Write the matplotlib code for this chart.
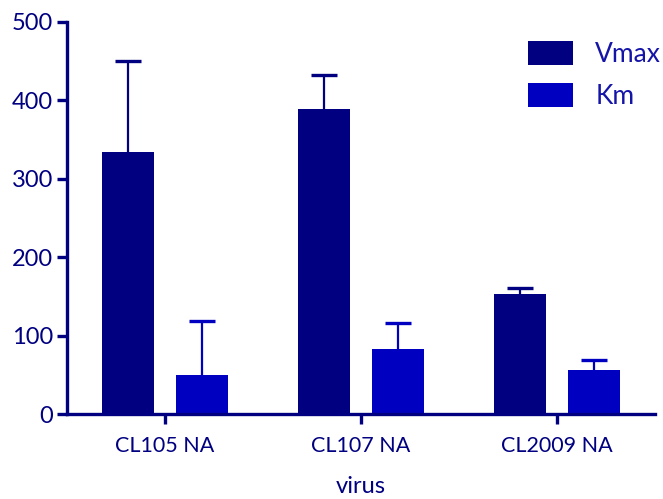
import numpy as np
import matplotlib
matplotlib.use("Agg")
import matplotlib.pyplot as plt

plt.rcParams['font.family'] = ['Lato', 'DejaVu Sans']

# data
viruses = ["CL105 NA", "CL107 NA", "CL2009 NA"]
vmax = [334, 389, 153]
vmax_err = [116, 43, 8]
km = [50, 83, 56]
km_err = [69, 33, 13]

navy = "#000080"
blue = "#0000c0"

fig = plt.figure(figsize=(6.63, 4.99), dpi=100)
ax = fig.add_axes([0.101, 0.170, 0.887, 0.786])

x = np.arange(len(viruses))
w = 0.265
off = 0.189
cap = 0.066

# upper-only error bars drawn behind the bars
for xs, vals, errs, col in [(x - off, vmax, vmax_err, navy), (x + off, km, km_err, blue)]:
    tops = np.array(vals) + np.array(errs)
    ax.vlines(xs, vals, tops, color=col, lw=1.6, zorder=1)
    ax.hlines(tops, xs - cap, xs + cap, color=col, lw=2.4, zorder=1)

ax.bar(x - off, vmax, w, color=navy, label="Vmax", zorder=2)
ax.bar(x + off, km, w, color=blue, label="Km", zorder=2)

ax.set_xlim(-0.5, 2.5)
ax.set_ylim(0, 500)
ax.set_yticks([0, 100, 200, 300, 400, 500])
ax.set_xticks(x)
ax.set_xticklabels(viruses)

for s in ["top", "right"]:
    ax.spines[s].set_visible(False)
for s in ["left", "bottom"]:
    ax.spines[s].set_color(navy)
    ax.spines[s].set_linewidth(2.4)

ax.tick_params(axis="both", colors=navy, width=2.4, length=7)
ax.tick_params(axis="y", labelsize=17, pad=3)
ax.tick_params(axis="x", labelsize=15.5, pad=9)

ax.set_xlabel("virus", fontsize=17, color=navy, labelpad=14)

leg = ax.legend(loc="upper left", frameon=False, borderpad=0,
                borderaxespad=0, fontsize=19, handlelength=1.7,
                handleheight=1.0, labelspacing=0.62, handletextpad=0.85)
leg.set_bbox_to_anchor((528 / 663, 1 - 41 / 499), transform=fig.transFigure)
for t in leg.get_texts():
    t.set_color("#1414a8")

fig.savefig("out.png", dpi=100)
